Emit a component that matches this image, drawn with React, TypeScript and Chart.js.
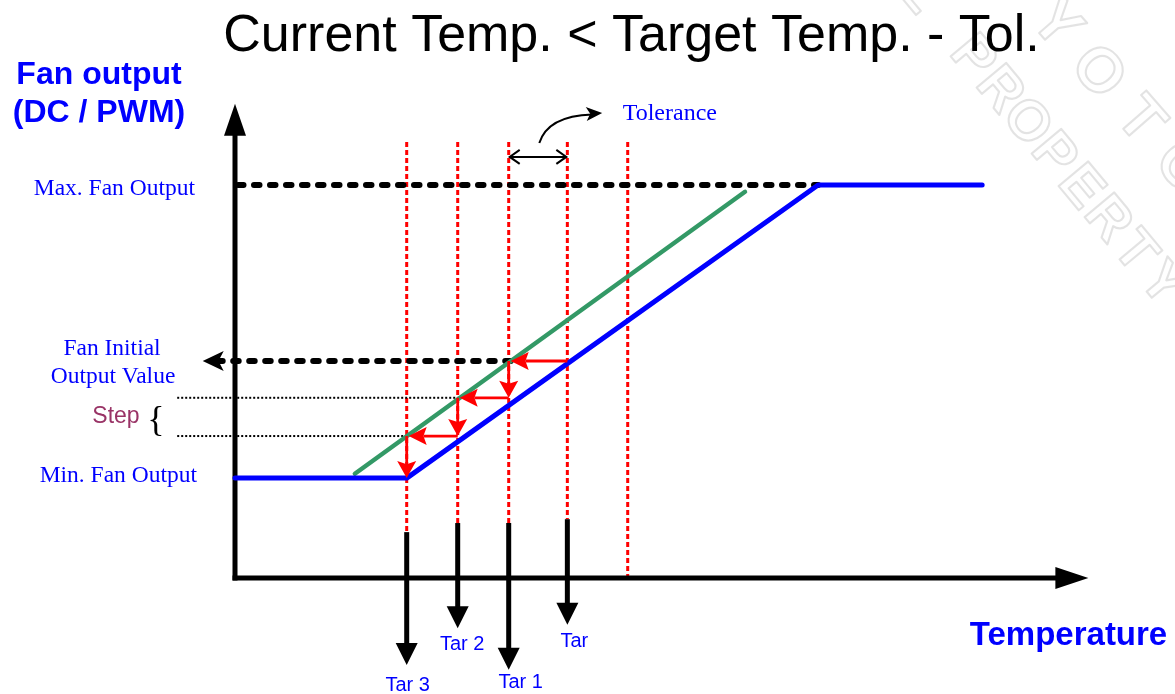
import React, { useEffect, useRef } from "react";
import { Chart, registerables } from "chart.js";

Chart.register(...registerables);

// ---------- values (temperature axis 0–100, fan output axis 0–100) ----------
const TARGET_LABELS = ["Tar 3", "Tar 2", "Tar 1", "Tar"];
const TARGET_TEMPS = [20.2, 26.2, 32.2, 39.1];
const TOLERANCE_TEMP = 46.2;
const TARGET_ARROW_TOP = [9.6, 11.5, 11.5, 12.3];
const TARGET_ARROW_TIP = [-18.2, -10.5, -19.2, -9.8];

const MIN_OUTPUT = 20.9;
const MAX_OUTPUT = 82.2;
const INITIAL_OUTPUT = 45.4;
const STEP_OUTPUTS = [37.7, 29.7];

const FAN_CURVE_TEMPS = [0, 20.2, 68.6, 87.9];
const FAN_CURVE_OUTPUTS = [MIN_OUTPUT, MIN_OUTPUT, MAX_OUTPUT, MAX_OUTPUT];
const SHIFTED_CURVE_TEMPS = [14.1, 60.0];
const SHIFTED_CURVE_OUTPUTS = [21.8, 80.8];

const GUIDE_TOP = 91.2;
const GUIDE_LEFT = -6.8;
const INITIAL_ARROW_TIP = -3.8;
const TOLERANCE_MARK_OUTPUT = 88.1;
const TOL_NOTE_TEMPS = [35.8, 36.8, 43.2];
const TOL_NOTE_OUTPUTS = [91.0, 96.7, 97.3];
const AXIS_X_END = 100.4;
const AXIS_Y_END = 99.2;

// ---------- styles ----------
const BLUE = "#0000FF";
const RED = "#FF0000";
const GREEN = "#339966";
const SERIF = '"Liberation Serif", "Times New Roman", serif';
const SANS = '"Liberation Sans", Arial, sans-serif';
const TAR_LABEL_DX = [1, 4.5, 12, 7];
const TAR_LABEL_DY = [26, 22, 18, 22];

function seg(ctx: any, x1: number, y1: number, x2: number, y2: number, color: string, width: number, dash: number[] = [], cap: any = "butt") {
  ctx.save();
  ctx.strokeStyle = color;
  ctx.lineWidth = width;
  ctx.setLineDash(dash);
  ctx.lineCap = cap;
  ctx.beginPath();
  ctx.moveTo(x1, y1);
  ctx.lineTo(x2, y2);
  ctx.stroke();
  ctx.restore();
}

function head(ctx: any, tipX: number, tipY: number, fromX: number, fromY: number, len: number, half: number, color: string, filled = true, lw = 2, notch = 1) {
  const a = Math.atan2(tipY - fromY, tipX - fromX);
  const bx = tipX - len * Math.cos(a);
  const by = tipY - len * Math.sin(a);
  const nx = tipX - len * notch * Math.cos(a);
  const ny = tipY - len * notch * Math.sin(a);
  const ox = -Math.sin(a) * half;
  const oy = Math.cos(a) * half;
  ctx.save();
  ctx.setLineDash([]);
  ctx.beginPath();
  ctx.moveTo(bx + ox, by + oy);
  ctx.lineTo(tipX, tipY);
  ctx.lineTo(bx - ox, by - oy);
  if (filled) {
    ctx.lineTo(nx, ny);
    ctx.closePath();
    ctx.fillStyle = color;
    ctx.fill();
  } else {
    ctx.strokeStyle = color;
    ctx.lineWidth = lw;
    ctx.lineJoin = "miter";
    ctx.stroke();
  }
  ctx.restore();
}

function arrow(ctx: any, x1: number, y1: number, x2: number, y2: number, color: string, width: number, len: number, half: number, notch = 1) {
  const a = Math.atan2(y2 - y1, x2 - x1);
  const back = notch < 1 ? len * notch : len * 0.6;
  const ex = x2 - back * Math.cos(a);
  const ey = y2 - back * Math.sin(a);
  seg(ctx, x1, y1, ex, ey, color, width);
  head(ctx, x2, y2, x1, y1, len, half, color, true, 2, notch);
}

function text(ctx: any, s: string, x: number, y: number, font: string, color: string, align: any = "center") {
  ctx.save();
  ctx.font = font;
  ctx.fillStyle = color;
  ctx.textAlign = align;
  ctx.textBaseline = "alphabetic";
  ctx.fillText(s, x, y);
  ctx.restore();
}

function watermark(ctx: any) {
  ctx.save();
  ctx.strokeStyle = "rgba(0,0,0,0.11)";
  ctx.lineWidth = 2.2;
  ctx.lineJoin = "round";
  ctx.textAlign = "center";
  ctx.textBaseline = "middle";
  ctx.font = "bold 56px " + SANS;
  const inner = "CONFIDENTIAL PROPERTY";
  const pIndex = inner.indexOf("PROPERTY");
  const innerStep = [27, 32.4];
  const innerAngle = Math.atan2(innerStep[1], innerStep[0]);
  for (let i = 0; i < inner.length; i++) {
    const k = i - pIndex;
    ctx.save();
    ctx.translate(972 + k * innerStep[0], 58 + k * innerStep[1]);
    ctx.rotate(innerAngle);
    ctx.strokeText(inner[i], 0, 0);
    ctx.restore();
  }
  ctx.font = "bold 62px " + SANS;
  const outer = "TOYOTOMI";
  const outerStep = [42, 48];
  const outerAngle = Math.atan2(outerStep[1], outerStep[0]);
  for (let i = 0; i < outer.length; i++) {
    const k = i - 2;
    ctx.save();
    ctx.translate(1055 + k * outerStep[0], 25 + k * outerStep[1]);
    ctx.rotate(outerAngle);
    ctx.strokeText(outer[i], 0, 0);
    ctx.restore();
  }
  ctx.restore();
}

const diagramPlugin = {
  id: "fanDiagram",
  beforeDatasetsDraw(chart: any) {
    const ctx = chart.ctx;
    const px = (v: number) => chart.scales.x.getPixelForValue(v);
    const py = (v: number) => chart.scales.y.getPixelForValue(v);
    ctx.save();
    watermark(ctx);

    // red dotted guide lines
    TARGET_TEMPS.forEach((t, i) => {
      seg(ctx, px(t), py(GUIDE_TOP), px(t), py(TARGET_ARROW_TOP[i]), RED, 3, [5, 3]);
    });
    seg(ctx, px(TOLERANCE_TEMP), py(GUIDE_TOP), px(TOLERANCE_TEMP), py(0), RED, 3, [5, 3]);

    // thin black dotted step lines
    STEP_OUTPUTS.forEach((o, i) => {
      seg(ctx, px(GUIDE_LEFT), py(o), px(TARGET_TEMPS[1 - i]), py(o), "#000", 2, [2, 2]);
    });

    // axes
    arrow(ctx, px(0), py(0) + 2.5, px(0), py(AXIS_Y_END), "#000", 5, 32, 11);
    arrow(ctx, px(0) - 2.5, py(0), px(AXIS_X_END), py(0), "#000", 5, 33, 11);

    // black dashed lines (max output, initial output)
    seg(ctx, px(0) + 3, py(MAX_OUTPUT), px(FAN_CURVE_TEMPS[2]), py(MAX_OUTPUT), "#000", 6, [5.5, 10.5], "round");
    const tipX = px(INITIAL_ARROW_TIP);
    seg(ctx, px(TARGET_TEMPS[2]) + 2, py(INITIAL_OUTPUT), tipX + 16, py(INITIAL_OUTPUT), "#000", 6, [5.5, 10.5], "round");
    head(ctx, tipX, py(INITIAL_OUTPUT), tipX + 30, py(INITIAL_OUTPUT), 21, 10, "#000", true, 2, 0.75);
    ctx.restore();
  },
  afterDatasetsDraw(chart: any) {
    const ctx = chart.ctx;
    const px = (v: number) => chart.scales.x.getPixelForValue(v);
    const py = (v: number) => chart.scales.y.getPixelForValue(v);
    ctx.save();

    // red step arrows
    const levels = [INITIAL_OUTPUT, ...STEP_OUTPUTS, MIN_OUTPUT];
    for (let i = 0; i < 3; i++) {
      const xFrom = px(TARGET_TEMPS[3 - i]);
      const xTo = px(TARGET_TEMPS[2 - i]);
      arrow(ctx, xFrom, py(levels[i]), xTo + 2, py(levels[i]), RED, 2.8, 18, 9, 0.82);
      arrow(ctx, xTo, py(levels[i]), xTo, py(levels[i + 1]), RED, 2.8, 17, 9.5, 0.82);
    }

    // black target arrows + labels
    TARGET_TEMPS.forEach((t, i) => {
      const x = px(t);
      arrow(ctx, x, py(TARGET_ARROW_TOP[i]), x, py(TARGET_ARROW_TIP[i]), "#000", 5, 22, 11);
      text(ctx, TARGET_LABELS[i], x + TAR_LABEL_DX[i], py(TARGET_ARROW_TIP[i]) + TAR_LABEL_DY[i], "20px " + SANS, BLUE);
    });

    // tolerance double arrow
    const tY = py(TOLERANCE_MARK_OUTPUT);
    const tx1 = px(TARGET_TEMPS[2]);
    const tx2 = px(TARGET_TEMPS[3]);
    seg(ctx, tx1 + 1, tY, tx2 - 1, tY, "#000", 2);
    head(ctx, tx1 + 1, tY, tx2, tY, 10, 7, "#000", false, 2);
    head(ctx, tx2 - 1, tY, tx1, tY, 10, 7, "#000", false, 2);

    // curved pointer to "Tolerance"
    const c0 = [px(TOL_NOTE_TEMPS[0]), py(TOL_NOTE_OUTPUTS[0])];
    const c1 = [px(TOL_NOTE_TEMPS[1]), py(TOL_NOTE_OUTPUTS[1])];
    const c2 = [px(TOL_NOTE_TEMPS[2]), py(TOL_NOTE_OUTPUTS[2])];
    ctx.save();
    ctx.strokeStyle = "#000";
    ctx.lineWidth = 2;
    ctx.setLineDash([]);
    ctx.beginPath();
    ctx.moveTo(c0[0], c0[1]);
    ctx.quadraticCurveTo(c1[0], c1[1], c2[0] - 10, c2[1] + 1.5);
    ctx.stroke();
    ctx.restore();
    head(ctx, c2[0], c2[1], c1[0], c1[1] + 1, 16, 7, "#000", true, 2, 0.75);
    text(ctx, "Tolerance", px(TOLERANCE_TEMP) - 5, tY - 37, "24px " + SERIF, BLUE, "left");

    // left labels
    const axX = px(0);
    text(ctx, "Max. Fan Output", axX - 40, py(MAX_OUTPUT) + 10, "23.5px " + SERIF, BLUE, "right");
    text(ctx, "Fan Initial", axX - 123, py(INITIAL_OUTPUT) - 6, "23.5px " + SERIF, BLUE);
    text(ctx, "Output Value", axX - 122, py(INITIAL_OUTPUT) + 22, "23.5px " + SERIF, BLUE);
    text(ctx, "Step", axX - 119, py(STEP_OUTPUTS[0]) + 25, "23px " + SANS, "#993366");
    text(ctx, "{", axX - 79, py(STEP_OUTPUTS[1]) - 5, "36px " + SERIF, "#000");
    text(ctx, "Min. Fan Output", axX - 38, py(MIN_OUTPUT) + 4, "23.5px " + SERIF, BLUE, "right");

    // titles
    text(ctx, "Current Temp. < Target Temp. - Tol.", 631.5, 51, "52px " + SANS, "#000");
    text(ctx, "Fan output", 99, 84, "bold 32px " + SANS, BLUE);
    text(ctx, "(DC / PWM)", 99, 122, "bold 32px " + SANS, BLUE);
    text(ctx, "Temperature", 1068.5, 645, "bold 33px " + SANS, BLUE);
    ctx.restore();
  },
};

export default function App() {
  const ref = useRef<HTMLCanvasElement | null>(null);
  useEffect(() => {
    document.body.style.margin = "0";
    document.body.style.background = "#ffffff";
    const canvas = ref.current;
    if (!canvas) return;
    const chart = new Chart(canvas, {
      type: "line",
      data: {
        datasets: [
          {
            data: FAN_CURVE_TEMPS.map((x, i) => ({ x, y: FAN_CURVE_OUTPUTS[i] })),
            borderColor: BLUE,
            borderWidth: 5,
            pointRadius: 0,
            borderCapStyle: "round",
            borderJoinStyle: "round",
            tension: 0,
            clip: false,
          },
          {
            data: SHIFTED_CURVE_TEMPS.map((x, i) => ({ x, y: SHIFTED_CURVE_OUTPUTS[i] })),
            borderColor: GREEN,
            borderWidth: 4.5,
            pointRadius: 0,
            borderCapStyle: "round",
            tension: 0,
            clip: false,
          },
        ],
      } as any,
      options: {
        animation: false,
        responsive: false,
        devicePixelRatio: 1,
        events: [],
        layout: { padding: { left: 235, right: 90, top: 100, bottom: 116 } },
        scales: {
          x: { type: "linear", min: 0, max: 100, display: false },
          y: { type: "linear", min: 0, max: 100, display: false },
        },
        plugins: { legend: { display: false }, tooltip: { enabled: false } },
      } as any,
      plugins: [diagramPlugin as any],
    });
    return () => chart.destroy();
  }, []);
  return (
    <div style={{ width: 1175, height: 694, background: "#fff" }}>
      <canvas ref={ref} width={1175} height={694} style={{ display: "block" }} />
    </div>
  );
}
